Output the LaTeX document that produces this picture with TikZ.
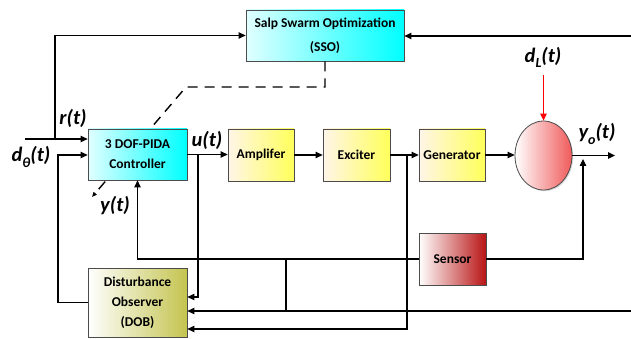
\documentclass[tikz,border=0pt]{standalone}
\usepackage{fontspec}
\setmainfont{Carlito}
\usetikzlibrary{arrows.meta,shadows,shapes.geometric,calc}
\definecolor{cyn}{RGB}{0,255,255}
\definecolor{cynl}{RGB}{225,255,255}
\definecolor{ylw}{RGB}{255,255,90}
\definecolor{pch}{RGB}{255,245,232}
\definecolor{olv}{RGB}{196,196,80}
\definecolor{sred}{RGB}{240,90,90}
\definecolor{dred}{RGB}{185,20,20}
\newcommand{\lsub}[1]{\raisebox{-0.25em}{\fontsize{14}{14}\selectfont #1}}
\begin{document}
\begin{tikzpicture}[x=1pt,y=-1pt,
  blk/.style={draw=black!70, line width=0.8pt, align=center, inner sep=0pt,
    font=\fontsize{13.5}{20}\selectfont\bfseries,
    drop shadow={opacity=0.3,shadow xshift=1.2pt,shadow yshift=-1.2pt}},
  cybox/.style={blk, left color=cynl, right color=cyn},
  ybox/.style={blk, left color=pch, right color=ylw},
  lbl/.style={font=\fontsize{20.5}{22}\selectfont\bfseries\itshape, inner sep=0pt},
  conn/.style={line width=1.2pt, draw=black},
  arr/.style={conn, -{Triangle[length=7pt,width=6.5pt]}},
  redarr/.style={line width=1.2pt, draw=red, -{Triangle[length=7pt,width=6.5pt]}, red},
  dsh/.style={line width=1.4pt, dash pattern=on 10pt off 7pt, -{Triangle[length=5pt,width=4pt]}}]
\useasboundingbox (0,0) rectangle (631,339);

\node[cybox, minimum width=158pt, minimum height=51pt,
  font=\fontsize{13.5}{24}\selectfont\bfseries] (sso) at (325,35.5)
  {Salp Swarm Optimization\\(SSO)};

\coordinate (dk) at (186,87);
\coordinate (dend) at (92,197);
\draw[dsh] (sso.south) |- (dk) -- (dend);

\node[cybox, minimum width=99pt, minimum height=51pt] (ctrl) at (137.5,154.5)
  {3 DOF-PIDA\\Controller};
\node[ybox, minimum width=66pt, minimum height=52pt] (amp) at (261,155) {Amplifer};
\node[ybox, minimum width=67pt, minimum height=52pt] (exc) at (356.5,155) {Exciter};
\node[ybox, minimum width=66pt, minimum height=52pt] (gen) at (452,155) {Generator};
\node[ellipse, draw=black!70, line width=0.8pt, left color=white, right color=sred,
  minimum width=57pt, minimum height=69pt, inner sep=0pt,
  drop shadow={opacity=0.3,shadow xshift=1.2pt,shadow yshift=-1.2pt}] (sum) at (543.5,155.5) {};
\node[blk, left color=white, middle color=white, right color=dred,
  minimum width=67pt, minimum height=52pt] (sen) at (452.5,259) {Sensor};
\node[blk, left color=white, right color=olv, minimum width=99pt, minimum height=69pt] (dob) at (137.5,302.5)
  {Disturbance\\Observer\\(DOB)};

% labels
\node[lbl] (lr) at (73,118) {r(t)};
\node[lbl] (ld) at (31,157) {d\lsub{θ}(t)};
\node[lbl] (lu) at (207,140) {u(t)};
\node[lbl] (ly) at (115,206) {y(t)};
\node[lbl] (ldl) at (543,57) {d\lsub{L}(t)};
\node[lbl] (lyo) at (597,134) {y\lsub{o}(t)};

% coordinates
\coordinate (rstart) at (25,139);
\coordinate (rj) at (55,139);
\coordinate (rr) at (631,36);
\coordinate (dj) at (58,155);
\coordinate (uj) at (198,154.5);
\coordinate (ud) at (198,297);
\coordinate (ej) at (407,155);
\coordinate (ed) at (407,329);
\coordinate (dl) at (543.5,75);
\coordinate (yout) at (615,155.5);
\coordinate (fb) at (583,259);
\coordinate (fbt) at (583,159);
\coordinate (j1) at (286,259);
\coordinate (j2) at (286,311);
\coordinate (rr2) at (631,311);

% connectors
\draw[arr] (rstart) -- (ctrl.west |- rstart);
\draw[arr] (rj) |- (sso.west);
\draw[arr] (rr) -- (sso.east |- rr);
\draw[arr] (dob.west) -| (dj) -- (ctrl.west |- dj);
\draw[arr] (ctrl.east) -- (amp.west |- ctrl.east);
\draw[arr] (uj) -- (ud) -- (dob.east |- ud);
\draw[arr] (amp.east) -- (exc.west);
\draw[arr] (exc.east) -- (gen.west);
\draw[arr] (ej) -- (ed) -- (dob.east |- ed);
\draw[arr] (gen.east) -- (sum.west |- gen.east);
\draw[redarr] (dl) -- (sum.north);
\draw[arr] (sum.east) -- (yout);
\draw[arr] (sen.east) -- (fb) -- (fbt);
\draw[arr] (sen.west) -- (ctrl.south |- sen.west) -- (ctrl.south);
\draw[conn] (j1) -- (j2);
\draw[arr] (rr2) -- (dob.east |- rr2);
\end{tikzpicture}
\end{document}
